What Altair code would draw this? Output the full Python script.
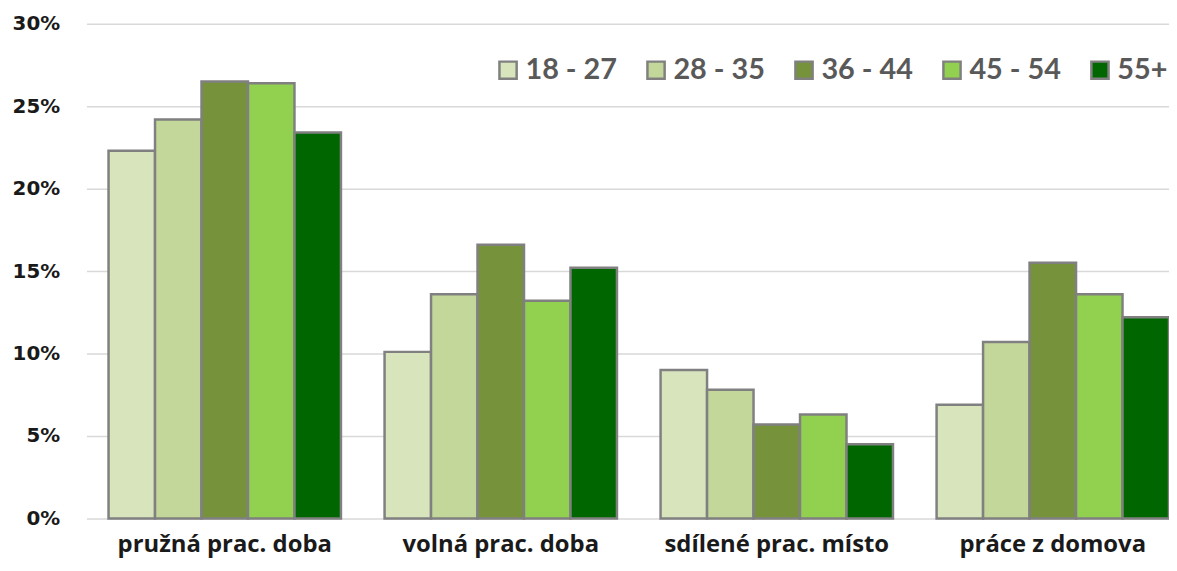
import altair as alt
import pandas as pd

categories = ["pružná prac. doba", "volná prac. doba", "sdílené prac. místo", "práce z domova"]
ages = ["18 - 27", "28 - 35", "36 - 44", "45 - 54", "55+"]
v_18_27 = [22.3, 10.1, 9.0, 6.9]
v_28_35 = [24.2, 13.6, 7.8, 10.7]
v_36_44 = [26.5, 16.6, 5.7, 15.5]
v_45_54 = [26.4, 13.2, 6.3, 13.6]
v_55 = [23.4, 15.2, 4.5, 12.2]
colors = ["#D8E4BC", "#C4D79B", "#76933C", "#92D050", "#006600"]
y_ticks = [0, 0.05, 0.10, 0.15, 0.20, 0.25, 0.30]

series = [v_18_27, v_28_35, v_36_44, v_45_54, v_55]
rows = []
for age, vals in zip(ages, series):
    for cat, v in zip(categories, vals):
        rows.append({"kategorie": cat, "vek": age, "podil": v / 100})
df = pd.DataFrame(rows)

chart = alt.Chart(df).mark_bar(stroke="#808080", strokeWidth=2.5, strokeJoin="miter").encode(
    x=alt.X("kategorie:N", sort=categories, title=None,
            scale=alt.Scale(paddingInner=0.158, paddingOuter=0.04, align=1),
            axis=alt.Axis(labelAngle=0, labelFont="Open Sans", labelFontWeight="bold",
                          labelFontSize=24, labelColor="#1a1a1a", labelPadding=14,
                          ticks=False, domain=False, grid=False, labelLimit=400)),
    xOffset=alt.XOffset("vek:N", sort=ages, scale=alt.Scale(paddingInner=0, paddingOuter=0)),
    y=alt.Y("podil:Q", title=None, scale=alt.Scale(domain=[0, 0.30], nice=False),
            axis=alt.Axis(values=y_ticks, format=".0%", labelFont="DejaVu Sans",
                          labelFontWeight="bold", labelFontSize=20, labelColor="#1a1a1a",
                          labelPadding=27, ticks=False, domain=False,
                          gridColor="#d9d9d9", gridWidth=1.5)),
    color=alt.Color("vek:N", sort=ages, scale=alt.Scale(domain=ages, range=colors),
                    legend=alt.Legend(title=None, orient="none", direction="horizontal",
                                      legendX=410, legendY=32, symbolType="square",
                                      symbolSize=300, symbolStrokeColor="#808080",
                                      symbolStrokeWidth=2.5, symbolOpacity=1,
                                      labelFont="Lato", labelFontWeight="bold",
                                      labelFontSize=29, labelColor="#595959",
                                      labelOffset=3, columnPadding=24, padding=0,
                                      labelLimit=300)),
).properties(
    width=1090, height=498,
    autosize=alt.AutoSizeParams(type="none"),
    padding={"left": 79, "top": 14, "right": 0, "bottom": 43}
).configure_view(stroke=None)

chart.save("out.html", embed_options={"renderer": "svg", "actions": False})
